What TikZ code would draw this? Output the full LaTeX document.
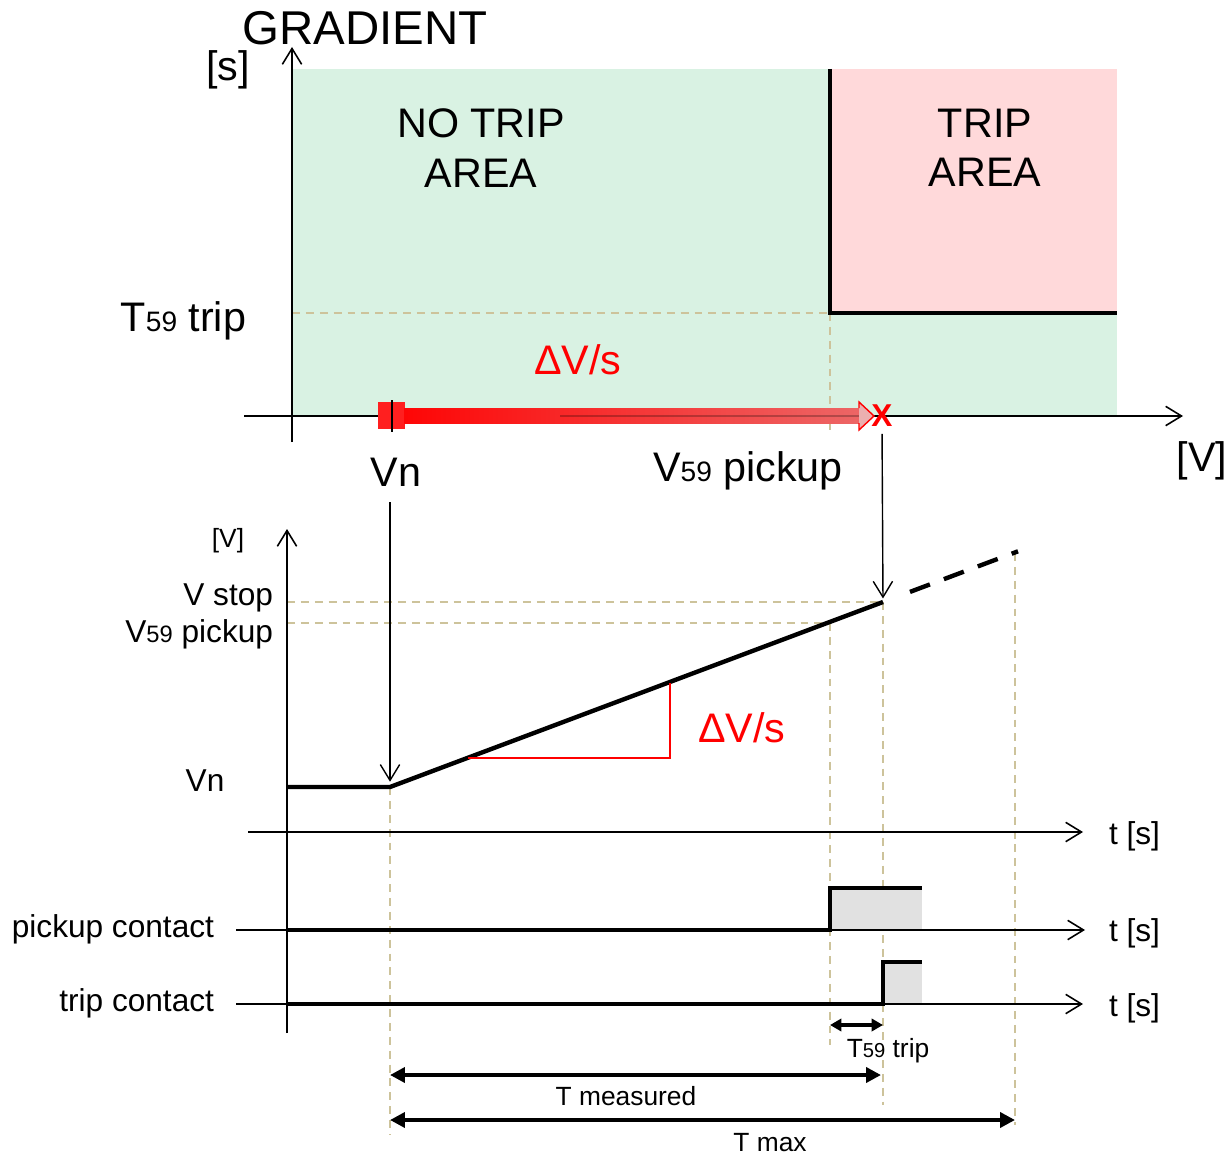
\documentclass[tikz,border=0pt]{standalone}
\usepackage{fontspec}
\setmainfont{Liberation Sans}
\usetikzlibrary{arrows.meta}
\definecolor{nogreen}{RGB}{217,242,227}
\definecolor{trippink}{RGB}{255,217,218}
\definecolor{guide}{RGB}{205,195,155}
\definecolor{pulsegrey}{RGB}{225,225,225}
\definecolor{fadered}{RGB}{228,150,150}
\pgfdeclarehorizontalshading{redfade}{100bp}{color(0bp)=(red); color(22bp)=(red); color(100bp)=(fadered)}
\newcommand{\fsz}[2]{\fontsize{#1}{#2}\selectfont}
\begin{document}
\begin{tikzpicture}[x=0.02cm,y=-0.02cm,
  axisline/.style={line width=0.9pt,-{Straight Barb[length=9pt,width=11pt,line width=0.9pt]}},
  thinarrow/.style={line width=0.8pt,-{Straight Barb[length=9pt,width=11pt,line width=0.8pt]}},
  guideline/.style={guide,line width=0.7pt,dash pattern=on 4.5pt off 3.4pt},
  border/.style={line width=1.8pt},
  signal/.style={line width=2.5pt},
  pulse/.style={line width=1.9pt},
  dimarrow/.style={line width=2.1pt,{Triangle[length=8.5pt,width=8.5pt]}-{Triangle[length=8.5pt,width=8.5pt]}},
  smalldim/.style={line width=2pt,{Triangle[length=6.5pt,width=7pt]}-{Triangle[length=6.5pt,width=7pt]}},
  big/.style={font=\fsz{23.5}{28}},
  mid/.style={font=\fsz{18}{21}},
  small/.style={font=\fsz{15}{18}},
  inner sep=0pt, outer sep=0pt]
\useasboundingbox (0,0) rectangle (1226,1155);

% ---------- top chart ----------
\fill[nogreen] (292,69) rectangle (1117,416);
\fill[trippink] (830,69) rectangle (1117,313);
\draw[guideline] (292,313) -- (830,313);
\draw[guideline] (830,313) -- (830,430);
\draw[border] (830,69) -- (830,313) -- (1117,313);

\coordinate (ty0) at (292,442);
\coordinate (ty1) at (292,47);
\draw[axisline] (ty0) -- (ty1);
\coordinate (tx0) at (244,416);
\coordinate (tx1) at (1183,416);
\draw[axisline] (tx0) -- (tx1);

% red gradient arrow
\fill[red!88!white] (378,402) rectangle (405,429);
\shade[shading=redfade] (404,408) rectangle (860,423);
\draw[black,opacity=0.25,line width=0.9pt] (560,416) -- (860,416);
\filldraw[draw=red,fill=fadered!75!white,line width=0.8pt] (859,408) -- (859,402) -- (874,416) -- (859,430) -- (859,423);
\draw[line width=0.8pt] (392,400) -- (392,432);
\node[text=red,font=\fsz{18}{20}\bfseries] (xm) at (882,416) {X};

\node[font=\fsz{27}{32}] (grad) at (365,28) {GRADIENT};
\node[big] (sunit) at (228,70) {[s]};
\node[big,align=center] (notrip) at (481,148) {NO TRIP\\AREA};
\node[big,align=center] (trip) at (985,148) {TRIP\\AREA};
\node[big,anchor=east] (t59) at (246,321) {T{\fsz{16}{18}59} trip};
\node[big,text=red] (dvs1) at (578,360) {ΔV/s};
\node[big] (vnT) at (396,472) {Vn};
\node[big] (v59T) at (748,471) {V{\fsz{16}{18}59} pickup};
\node[big] (vunitT) at (1202,461) {[V]};

% ---------- bottom chart ----------
\coordinate (kn) at (390,787);
\coordinate (pk) at (883,602);
\coordinate (ext0) at (910,591.9);
\coordinate (ext1) at (1018,551.3);

\draw[guideline] (287,602) -- (pk);
\draw[guideline] (287,623) -- (830,623);
\draw[guideline] (kn) -- (390,1135);
\draw[guideline] (830,623) -- (830,1045);
\draw[guideline] (pk) -- (883,1105);
\draw[guideline] (1015,553) -- (1015,1125);

\coordinate (by0) at (287,1033);
\coordinate (by1) at (287,529);
\draw[axisline] (by0) -- (by1);
\coordinate (ax0) at (248,832);
\coordinate (ax1) at (1083,832);
\draw[axisline] (ax0) -- (ax1);
\coordinate (pa0) at (236,930);
\coordinate (pa1) at (1085,930);
\draw[axisline] (pa0) -- (pa1);
\coordinate (ta0) at (236,1004);
\coordinate (ta1) at (1083,1004);
\draw[axisline] (ta0) -- (ta1);

\draw[signal] (287,787) -- (kn) -- (pk);
\draw[signal,dash pattern=on 12.1pt off 8.5pt] (ext0) -- (ext1);
\draw[red,line width=1pt] (468,758) -- (670,758) -- (670,683);

\fill[pulsegrey] (830,888) rectangle (922,929);
\draw[pulse] (287,930) -- (830,930) -- (830,888) -- (922,888);
\fill[pulsegrey] (883,962) rectangle (922,1003);
\draw[pulse] (287,1004) -- (883,1004) -- (883,962) -- (922,962);

% connectors from top chart
\draw[thinarrow,shorten <=9pt,shorten >=3pt] (vnT.south -| kn) -- (kn);
\draw[thinarrow,shorten <=4pt,shorten >=2pt] (xm.south) -- (pk);

% measurement arrows
\coordinate (d0) at (830,1025);
\coordinate (d1) at (883,1025);
\draw[smalldim] (d0) -- (d1);
\coordinate (m0) at (390,1075);
\coordinate (m1) at (881,1075);
\draw[dimarrow] (m0) -- (m1);
\coordinate (x0) at (390,1120);
\coordinate (x1) at (1015,1120);
\draw[dimarrow] (x0) -- (x1);

% labels
\node[small] (vunitB) at (228,541) {[V]};
\node[mid,anchor=east] (vstop) at (273,598) {V stop};
\node[mid,anchor=east] (v59B) at (273,634) {V{\fsz{13.5}{16}59} pickup};
\node[mid] (vnB) at (205,781) {Vn};
\node[big,text=red] (dvs2) at (742,728) {ΔV/s};
\node[mid,anchor=west] (ts1) at (1109,836) {t [s]};
\node[mid,anchor=west] (ts2) at (1109,933) {t [s]};
\node[mid,anchor=west] (ts3) at (1109,1008) {t [s]};
\node[mid,anchor=east] (pc) at (214,929) {pickup contact};
\node[mid,anchor=east] (tc) at (214,1003) {trip contact};
\node[small] (t59B) at (888,1051) {T{\fsz{11.5}{14}59} trip};
\node[small] (tmeas) at (626,1096) {T measured};
\node[small] (tmax) at (770,1143) {T max};
\end{tikzpicture}
\end{document}
